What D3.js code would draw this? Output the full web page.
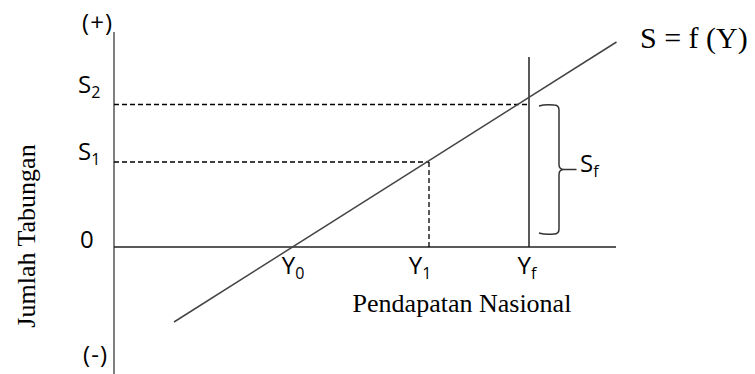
<!DOCTYPE html>
<html lang="id">
<head>
  <meta charset="UTF-8">
  <title>Fungsi Tabungan</title>
  <script src="https://cdn.jsdelivr.net/npm/d3@7/dist/d3.min.js"></script>
  <style>
    body {
      margin: 0;
      background: #fff;
    }
    .sans {
      font-family: "Open Sans", Lato, sans-serif;
      font-size: 24px;
      fill: #000;
    }
    .sans .sub {
      font-size: 16px;
    }
    .serif {
      font-family: "Liberation Serif", "Times New Roman", serif;
      fill: #000;
    }
    .axis-line {
      stroke: #222;
      stroke-width: 1.5;
    }
    .dash {
      stroke: #000;
      stroke-width: 1.3;
      stroke-dasharray: 5 3;
    }
  </style>
</head>
<body>

<svg width="755" height="374"></svg>

<script>
  // titik pendapatan nasional pada sumbu X
  const incomeNames = ["Y", "Y", "Y"];
  const incomeSubs = ["0", "1", "f"];
  const incomeVals = [36, 63, 83];

  // titik tabungan pada sumbu S
  const savingNames = ["S", "S"];
  const savingSubs = ["1", "2"];
  const savingVals = [17, 28.5];

  // garis S = f(Y), dua ujung (Y, S)
  const lineIncome = [12, 100.5];
  const lineSaving = [-15, 41];

  // batas sumbu
  const incomeDomain = [0, 100];
  const savingDomain = [-25.4, 43];

  // garis tegak Yf dan kurung Sf
  const fullTop = 38;
  const braceRange = [2.6, 28.4];

  const svg = d3.select('svg');
  const W = +svg.attr('width');
  const H = +svg.attr('height');

  const x = d3.scaleLinear().domain(incomeDomain).range([114, 614]);
  const y = d3.scaleLinear().domain(savingDomain).range([H, 32]);

  // sumbu tegak dan mendatar
  svg.append('line')
    .attr('class', 'axis-line')
    .attr('x1', x(0)).attr('x2', x(0))
    .attr('y1', y(savingDomain[1])).attr('y2', H)
    .style('stroke', '#555');
  svg.append('line')
    .attr('class', 'axis-line')
    .attr('x1', x(0)).attr('x2', x(incomeDomain[1]) + 2)
    .attr('y1', y(0)).attr('y2', y(0));

  // garis putus-putus S1 dan S2
  const yf = incomeVals[2];
  svg.append('line').attr('class', 'dash')
    .attr('x1', x(0)).attr('x2', x(incomeVals[1]))
    .attr('y1', y(savingVals[0])).attr('y2', y(savingVals[0]));
  svg.append('line').attr('class', 'dash')
    .attr('x1', x(incomeVals[1])).attr('x2', x(incomeVals[1]))
    .attr('y1', y(savingVals[0])).attr('y2', y(0));
  svg.append('line').attr('class', 'dash')
    .attr('x1', x(0)).attr('x2', x(yf))
    .attr('y1', y(savingVals[1])).attr('y2', y(savingVals[1]));

  // garis tegak Yf
  svg.append('line')
    .attr('class', 'axis-line')
    .attr('x1', x(yf)).attr('x2', x(yf))
    .attr('y1', y(fullTop)).attr('y2', y(0));

  // garis tabungan S = f(Y)
  const pts = lineIncome.map((v, i) => [v, lineSaving[i]]);
  svg.append('path')
    .datum(pts)
    .attr('d', d3.line().x(d => x(d[0])).y(d => y(d[1])))
    .attr('fill', 'none')
    .attr('stroke', '#444')
    .attr('stroke-width', 1.5);

  // kurung kurawal Sf
  const bl = x(85), br = x(89), tip = x(92.5), r = 5;
  const bt = y(braceRange[1]), bb = y(braceRange[0]), bm = (bt + bb) / 2;
  const brace = d3.path();
  brace.moveTo(bl, bt + 1);
  brace.quadraticCurveTo(bl + 6, bt - 1, br - r, bt);
  brace.quadraticCurveTo(br, bt, br, bt + r);
  brace.lineTo(br, bm - r);
  brace.quadraticCurveTo(br, bm, br + r, bm);
  brace.lineTo(tip, bm);
  brace.moveTo(br + r, bm);
  brace.quadraticCurveTo(br, bm, br, bm + r);
  brace.lineTo(br, bb - r);
  brace.quadraticCurveTo(br, bb, br - r, bb);
  brace.quadraticCurveTo(bl + 6, bb + 1, bl, bb - 1);
  svg.append('path')
    .attr('d', brace.toString())
    .attr('fill', 'none')
    .attr('stroke', '#333')
    .attr('stroke-width', 1.5);

  // label dengan subskrip
  function subLabel(g, name, sub, px, py, anchor) {
    const t = g.append('text')
      .attr('class', 'sans')
      .attr('x', px).attr('y', py)
      .attr('text-anchor', anchor || 'start');
    t.append('tspan').text(name);
    t.append('tspan').attr('class', 'sub').attr('dy', 5).text(sub);
    return t;
  }

  // label sumbu S
  const sDy = [-2, -11.5];
  savingVals.forEach((v, i) => {
    subLabel(svg, savingNames[i], savingSubs[i], 78, y(v) + sDy[i]);
  });
  svg.append('text').attr('class', 'sans')
    .attr('x', 80).attr('y', y(0) + 1).text('0');
  svg.append('text').attr('class', 'sans')
    .attr('x', 113).attr('y', 31).attr('text-anchor', 'end')
    .style('letter-spacing', '1px').text('(+)');
  svg.append('text').attr('class', 'sans')
    .attr('x', 108).attr('y', 363).attr('text-anchor', 'end')
    .style('letter-spacing', '1px').text('(-)');

  // label sumbu Y
  const yDx = [-1, -9, -2];
  incomeVals.forEach((v, i) => {
    subLabel(svg, incomeNames[i], incomeSubs[i], x(v) + yDx[i], 274, 'middle');
  });

  subLabel(svg, 'S', 'f', 580, 172);

  // judul sumbu
  svg.append('text').attr('class', 'serif')
    .attr('x', 462).attr('y', 312)
    .attr('text-anchor', 'middle')
    .style('font-size', '26px')
    .text('Pendapatan Nasional');
  svg.append('text').attr('class', 'serif')
    .attr('transform', 'translate(35,236) rotate(-90)')
    .attr('text-anchor', 'middle')
    .style('font-size', '26px')
    .text('Jumlah Tabungan');

  svg.append('text').attr('class', 'serif')
    .attr('x', 640).attr('y', 48)
    .style('font-size', '30px')
    .text('S = f (Y)');
</script>

</body>
</html>
